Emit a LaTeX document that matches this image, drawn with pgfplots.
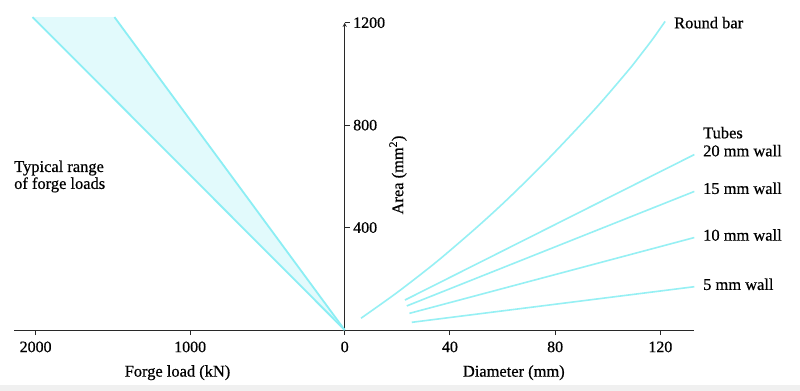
\documentclass[border=0pt]{standalone}
\usepackage{fontspec}
\setmainfont{Liberation Serif}[FakeBold=0.6]
\usepackage{pgfplots}
\pgfplotsset{compat=1.18}

\definecolor{fanline}{RGB}{140,238,244}
\definecolor{fanfill}{RGB}{226,250,252}
\definecolor{curve}{RGB}{150,240,244}
\definecolor{axisgray}{RGB}{40,40,40}

\newcommand{\lab}{\fontsize{16.5}{17}\selectfont}

\pgfplotsset{
  halfaxis/.style={
    scale only axis, height=307.3bp,
    ymin=0, ymax=1200,
    axis x line=bottom,
    axis line style={-, axisgray, line width=0.9bp},
    tick style={axisgray, line width=0.9bp},
    major tick length=5bp,
    ticklabel style={font=\fontsize{16}{16}\selectfont},
    xticklabel style={yshift=-3bp},
    /pgf/number format/assume math mode=true,
    /pgf/number format/1000 sep={},
    clip=false,
  },
}

\begin{document}
\begin{tikzpicture}
\useasboundingbox (0,0) rectangle (800bp,391bp);
\fill[white] (0,0) rectangle (800bp,391bp);
\fill[black!6] (0,0) rectangle (800bp,6bp);

% forge load side
\begin{axis}[halfaxis,
  width=330.4bp, at={(14.3bp,61bp)}, anchor=south west,
  xmin=0, xmax=2138, x dir=reverse,
  axis y line=right,
  xtick={0,1000,2000}, ytick={400,800,1200},
  xtick align=outside, ytick align=outside,
  ]
\addplot[fill=fanfill, draw=none] coordinates {(0,0) (2020,1222) (1490,1222)} -- cycle;
\addplot[fanline, line width=1.8bp] coordinates {(0,0) (2020,1222)};
\addplot[fanline, line width=1.8bp] coordinates {(0,0) (1490,1222)};
\end{axis}

% diameter side
\begin{axis}[halfaxis,
  width=349.6bp, at={(344.7bp,61bp)}, anchor=south west,
  xmin=0, xmax=132.9,
  axis y line=none,
  xtick={40,80,120}, xtick align=outside,
  ]
% round bar
\addplot[curve, line width=1.6bp, smooth] coordinates {
  (6.2,46) (20,147) (35,267) (50,399) (61.6,508) (75,643)
  (87,772) (97.1,885) (108,1016) (112,1068) (117,1135) (121.8,1205)};
% tubes
\addplot[curve, line width=1.6bp] coordinates {(22.9,117) (132.9,685)};
\addplot[curve, line width=1.6bp] coordinates {(23.6,94) (132.9,541)};
\addplot[curve, line width=1.6bp] coordinates {(24.6,65) (132.9,361)};
\addplot[curve, line width=1.6bp] coordinates {(25.5,30) (132.9,169)};
\end{axis}

\node[rotate=90, font=\lab] at (398bp,216bp) {Area (mm\textsuperscript{2})};
\node[font=\lab] at (177.5bp,18.3bp) {Forge load (kN)};
\node[font=\lab] at (513.8bp,18.3bp) {Diameter (mm)};
\node[font=\lab, anchor=west, align=left, inner sep=0pt] at (14bp,214.5bp) {Typical range\\of forge loads};
\node[font=\lab, anchor=west, inner sep=0pt] at (674bp,368.3bp) {Round bar};
\node[font=\lab, anchor=west, inner sep=0pt] at (703bp,258.3bp) {Tubes};
\node[font=\lab, anchor=west, inner sep=0pt] at (703bp,240.3bp) {20 mm wall};
\node[font=\lab, anchor=west, inner sep=0pt] at (703bp,202.7bp) {15 mm wall};
\node[font=\lab, anchor=west, inner sep=0pt] at (703bp,156bp) {10 mm wall};
\node[font=\lab, anchor=west, inner sep=0pt] at (703bp,106.7bp) {5 mm wall};
\end{tikzpicture}
\end{document}
